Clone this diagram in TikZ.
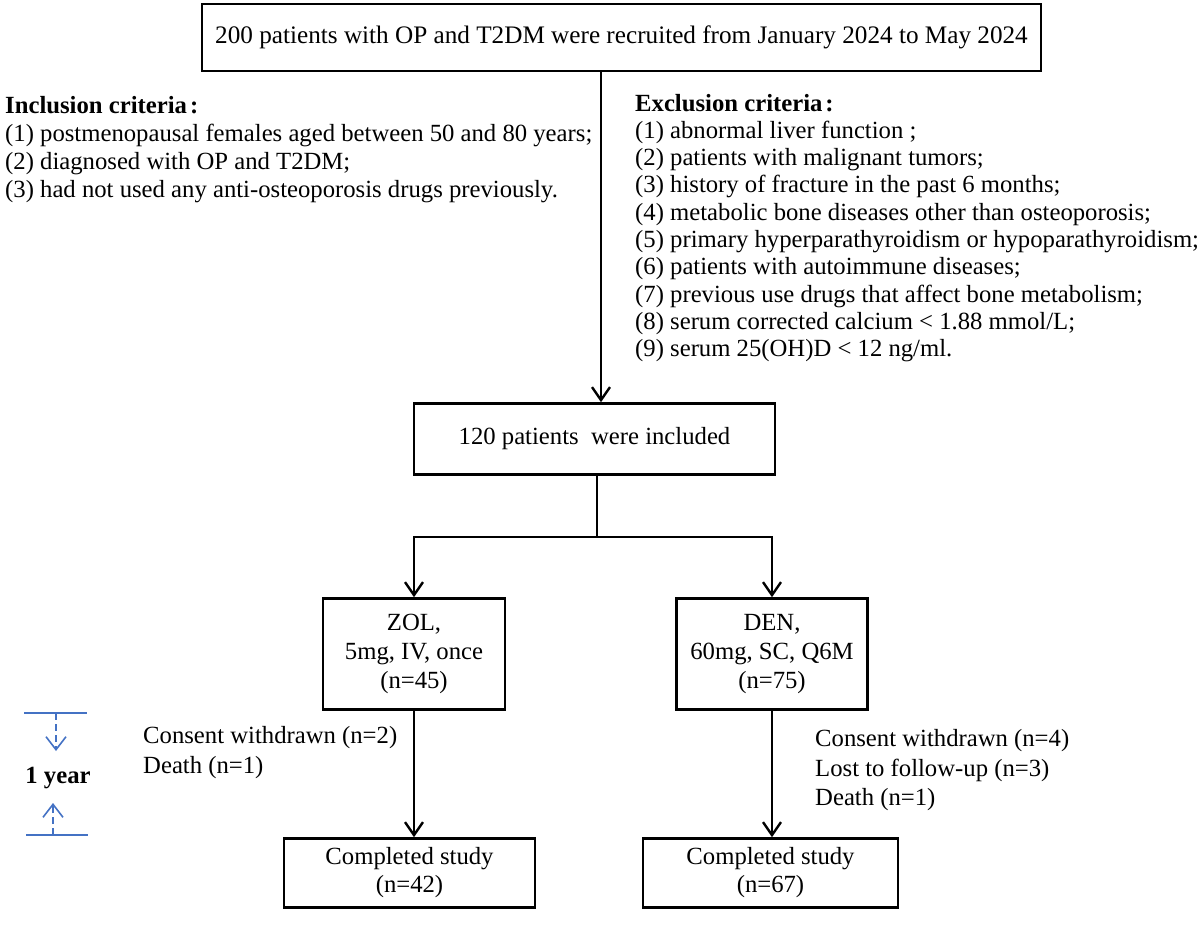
\documentclass[tikz,border=0pt]{standalone}
\usepackage{fontspec}
\setmainfont{Liberation Serif}
\usetikzlibrary{arrows.meta}
\newcommand\fs{\fontsize{24.7}{29}\selectfont}
\definecolor{yblue}{HTML}{4472C4}
\begin{document}
\begin{tikzpicture}[x=1pt,y=-1pt,
  box/.style={draw, line width=2.6pt, inner sep=0pt, align=center, font=\fs},
  arr/.style={line width=2.4pt, -{Straight Barb[length=13pt,width=18pt,line width=2.4pt]}},
  conn/.style={line width=2.4pt},
  txt/.style={anchor=base west, inner sep=0pt, font=\fs},
  bluel/.style={yblue, line width=2pt},
  bluea/.style={yblue, line width=1.6pt, dash pattern=on 7pt off 4pt, -{Straight Barb[length=13pt,width=20pt,line width=1.6pt]}}]
\useasboundingbox (0,0) rectangle (1200,929);

% boxes
\node[box, minimum width=839pt, minimum height=67pt, font=\fontsize{25.2}{29}\selectfont] (top) at (621.5,37.5) {200 patients with OP and T2DM were recruited from January 2024 to May 2024};
\node[box, minimum width=361pt, minimum height=71pt] (n120) at (594.5,439) {120 patients\ \ were included};
\node[box, minimum width=182pt, minimum height=111pt] (zol) at (414,654) {ZOL,\\5mg, IV, once\\(n=45)};
\node[box, minimum width=191pt, minimum height=111pt] (den) at (772,654) {DEN,\\60mg, SC, Q6M\\(n=75)};
\node[box, minimum width=251pt, minimum height=69pt, font=\fontsize{24.7}{28}\selectfont] (compL) at (409.5,873) {Completed study\\(n=42)};
\node[box, minimum width=255pt, minimum height=69pt, font=\fontsize{24.7}{28}\selectfont] (compR) at (770.5,873) {Completed study\\(n=67)};

% inclusion criteria
\node[txt] (inc0) at (5,113) {\bfseries Inclusion criteria\hspace{3pt}:};
\node[txt] (inc1) at (5,141) {(1) postmenopausal females aged between 50 and 80 years;};
\node[txt] (inc2) at (5,169) {(2) diagnosed with OP and T2DM;};
\node[txt] (inc3) at (5,197) {(3) had not used any anti-osteoporosis drugs previously.};

% exclusion criteria
\node[txt] (exc0) at (635,111) {\bfseries Exclusion criteria\hspace{3pt}:};
\node[txt] (exc1) at (635,138.3) {(1) abnormal liver function ;};
\node[txt] (exc2) at (635,165.6) {(2) patients with malignant tumors;};
\node[txt] (exc3) at (635,192.9) {(3) history of fracture in the past 6 months;};
\node[txt] (exc4) at (635,220.2) {(4) metabolic bone diseases other than osteoporosis;};
\node[txt] (exc5) at (635,247.5) {(5) primary hyperparathyroidism or hypoparathyroidism;};
\node[txt] (exc6) at (635,274.8) {(6) patients with autoimmune diseases;};
\node[txt] (exc7) at (635,302.1) {(7) previous use drugs that affect bone metabolism;};
\node[txt] (exc8) at (635,329.4) {(8) serum corrected calcium < 1.88 mmol/L;};
\node[txt] (exc9) at (635,356.7) {(9) serum 25(OH)D < 12 ng/ml.};

% dropouts
\node[txt] (dl1) at (143,743) {Consent withdrawn (n=2)};
\node[txt] (dl2) at (143,773) {Death (n=1)};
\node[txt] (dr1) at (815,746) {Consent withdrawn (n=4)};
\node[txt] (dr2) at (815,776) {Lost to follow-up (n=3)};
\node[txt] (dr3) at (815,805) {Death (n=1)};

% connectors
\coordinate (a1) at (601,0);
\draw[arr] (top.south -| a1) -- (n120.north -| a1);
\coordinate (j1) at (597,537);
\draw[conn] (n120.south -| j1) -- (j1);
\draw[arr] (j1) -| (zol.north);
\draw[arr] (j1) -| (den.north);
\draw[arr] (zol.south) -- (zol.south |- compL.north);
\draw[arr] (den.south) -- (den.south |- compR.north);

% 1 year marker
\coordinate (t1) at (24,713);
\coordinate (t2) at (87,713);
\coordinate (t3) at (56,713);
\coordinate (t4) at (56,751);
\coordinate (b1) at (26,835);
\coordinate (b2) at (88,835);
\coordinate (b3) at (53,835);
\coordinate (b4) at (53,803);
\draw[bluel] (t1) -- (t2);
\draw[bluel] (b1) -- (b2);
\draw[bluea] (t3) -- (t4);
\draw[bluea] (b3) -- (b4);
\node[font=\fs\bfseries, inner sep=0pt] (yr) at (58,778) {1 year};
\end{tikzpicture}
\end{document}
